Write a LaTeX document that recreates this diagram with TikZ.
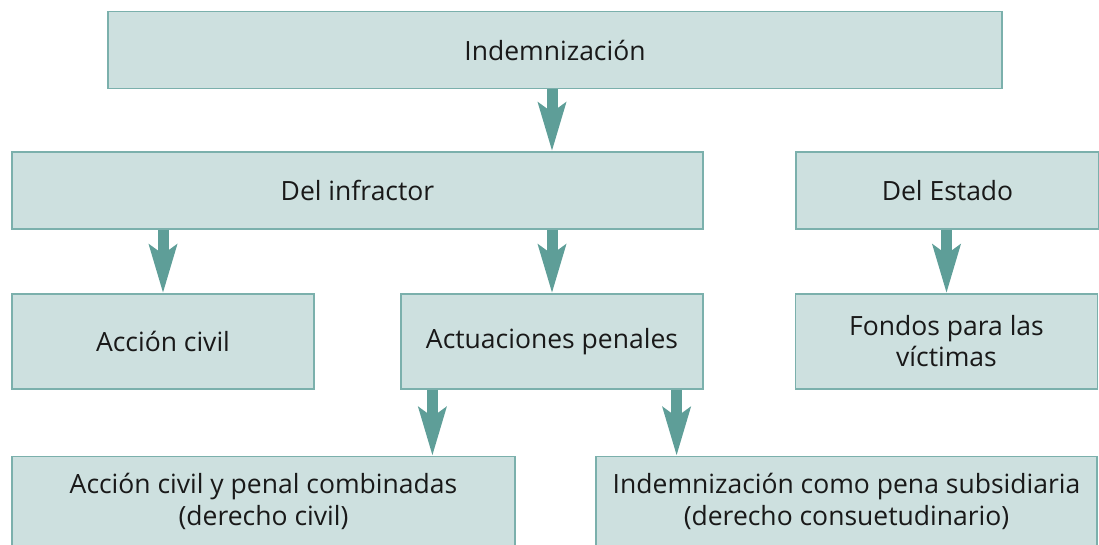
\documentclass[tikz,border=0pt]{standalone}
\usepackage{fontspec}
\setmainfont{Open Sans}
\usepackage{xcolor}
\usepackage{tikz}
\definecolor{boxfill}{RGB}{205, 224, 223}
\definecolor{boxline}{RGB}{123, 176, 172}
\definecolor{arrowteal}{RGB}{94, 158, 152}
\usetikzlibrary{arrows.meta, positioning, calc}

\begin{document}
\begin{tikzpicture}[x=1pt, y=1pt,
    caja/.style={draw=boxline, fill=boxfill, line width=1.2pt, align=center,
          font=\fontsize{26.5}{31}\selectfont, text=black!90, inner sep=0pt},
    flecha/.style={draw=arrowteal, line width=11pt,
          -{Stealth[length=48pt, width=27pt, inset=9pt]}}]
    \useasboundingbox (0,0) rectangle (1099,-545);
    \clip (0,0) rectangle (1099,-545);
    % first level
    \node[caja, minimum width=894pt, minimum height=77pt] (indem) at (555,-50) {Indemnización};
    % second level
    \node[caja, minimum width=691pt, minimum height=77pt] (infr) at (357.5,-190.5) {Del infractor};
    \node[caja, minimum width=303pt, minimum height=77pt] (estado) at (947.5,-190.5) {Del Estado};
    % third level
    \node[caja, minimum width=302pt, minimum height=95pt] (acciv) at (163,-341.5) {Acción civil};
    \node[caja, minimum width=302pt, minimum height=95pt] (actpen) at (552,-341.5) {Actuaciones penales};
    \node[caja, minimum width=302pt, minimum height=95pt] (fondos) at (946.5,-341.5) {Fondos para las\\víctimas};
    % fourth level
    \node[caja, minimum width=503pt, minimum height=120pt, anchor=north] (combo) at (263.5,-456) {};
    \node[caja, minimum width=501pt, minimum height=120pt, anchor=north] (subsid) at (846.5,-456) {};
    \node[align=center, font=\fontsize{26.5}{32}\selectfont, text=black!90] (combotxt) at (263.5,-501) {Acción civil y penal combinadas\\(derecho civil)};
    \node[align=center, font=\fontsize{26.5}{32}\selectfont, text=black!90] (subsidtxt) at (846.5,-501) {Indemnización como pena subsidiaria\\(derecho consuetudinario)};
    % arrows
    \coordinate (izq) at ([xshift=32pt]actpen.south west);
    \coordinate (der) at ([xshift=-27pt]actpen.south east);
    \draw[flecha] (indem.south -| actpen) -- (infr.north -| actpen);
    \draw[flecha] (infr.south -| acciv) -- (acciv.north);
    \draw[flecha] (infr.south -| actpen) -- (actpen.north);
    \draw[flecha] (estado.south -| fondos) -- (fondos.north);
    \draw[flecha] (izq) -- (combo.north -| izq);
    \draw[flecha] (der) -- (subsid.north -| der);
\end{tikzpicture}
\end{document}
